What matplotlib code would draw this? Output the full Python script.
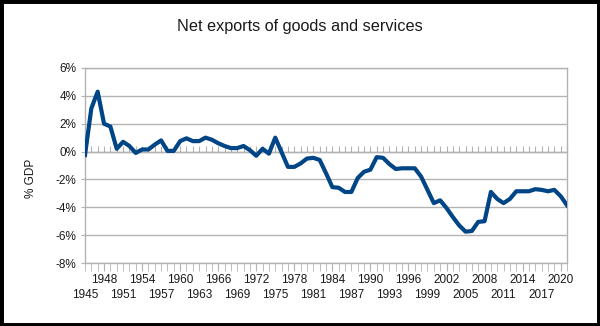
import numpy as np
import matplotlib
matplotlib.use('Agg')
import matplotlib.pyplot as plt
from matplotlib.patches import Rectangle
from matplotlib.ticker import FuncFormatter

plt.rcParams['font.family'] = ['Liberation Sans', 'DejaVu Sans']

anos = list(range(1945, 2022))
exportacoes = [-0.25, 3.1, 4.3, 2.0, 1.8, 0.2, 0.7, 0.4, -0.1, 0.15,
               0.15, 0.5, 0.8, 0.05, 0.05, 0.75, 0.95, 0.75, 0.75, 1.0,
               0.85, 0.6, 0.4, 0.25, 0.25, 0.4, 0.1, -0.3, 0.2, -0.15,
               1.0, -0.05, -1.1, -1.1, -0.85, -0.5, -0.45, -0.6, -1.55, -2.55,
               -2.6, -2.9, -2.9, -1.9, -1.45, -1.3, -0.4, -0.45, -0.9, -1.25,
               -1.2, -1.2, -1.2, -1.8, -2.75, -3.7, -3.5, -4.05, -4.7, -5.3,
               -5.75, -5.7, -5.05, -5.0, -2.9, -3.4, -3.7, -3.4, -2.85, -2.85,
               -2.85, -2.7, -2.75, -2.85, -2.75, -3.2, -3.85]
rotulos_linha1 = [1948, 1954, 1960, 1966, 1972, 1978, 1984, 1990, 1996, 2002, 2008, 2014, 2020]
rotulos_linha2 = [1945, 1951, 1957, 1963, 1969, 1975, 1981, 1987, 1993, 1999, 2005, 2011, 2017]
y_ticks = [6, 4, 2, 0, -2, -4, -6, -8]

cinza = '#b3b3b3'
texto = '#1a1a1a'
fs = 8.5

fig = plt.figure(figsize=(6, 3.26), dpi=100)
ax = fig.add_axes([85/600, 1-263/326, (567-85)/600, (263-68)/326])

for v in y_ticks:
    ax.axhline(v, color=cinza, linewidth=1, zorder=1)

ax.plot(anos, exportacoes, color='#004586', linewidth=3, zorder=3,
        solid_joinstyle='round')

ax.set_xlim(1945, 2021)
ax.set_ylim(-8, 6)
ax.set_yticks(y_ticks)
ax.yaxis.set_major_formatter(FuncFormatter(lambda v, p: '%d%%' % v))

ax.set_xticks(rotulos_linha1)
ax.set_xticklabels([str(a) for a in rotulos_linha1], fontsize=fs)
ax.set_xticks(anos, minor=True)
ax.tick_params(axis='x', which='both', direction='out', length=5.5, color=cinza,
               pad=2.5, labelcolor=texto)
ax.tick_params(axis='y', direction='out', length=3, color=cinza,
               labelsize=fs, labelcolor=texto, pad=3)

for s in ax.spines.values():
    s.set_color(cinza)
    s.set_linewidth(1)

# second row of year labels
linha2 = ax.secondary_xaxis('bottom')
linha2.set_xticks(rotulos_linha2)
linha2.set_xticklabels([str(a) for a in rotulos_linha2], fontsize=fs)
linha2.tick_params(length=0, pad=18.5, labelcolor=texto)
linha2.spines['bottom'].set_visible(False)

# ticks on the zero line
eixo0 = ax.secondary_xaxis(8/14)
eixo0.set_xticks(anos)
eixo0.set_xticklabels([])
eixo0.tick_params(direction='out', length=4, color=cinza)
eixo0.spines['bottom'].set_visible(False)

fig.text(0.5, 1-27/326, 'Net exports of goods and services', ha='center',
         va='center', fontsize=11.7, color=texto)
fig.text(31/600, 1-178/326, '% GDP', rotation=90, ha='center', va='center',
         fontsize=fs, color=texto)

# black frame around the picture
fig.patches.append(Rectangle((0, 0), 1, 1, transform=fig.transFigure,
                             fill=False, edgecolor='black', linewidth=5))

fig.savefig('out.png', dpi=100)
